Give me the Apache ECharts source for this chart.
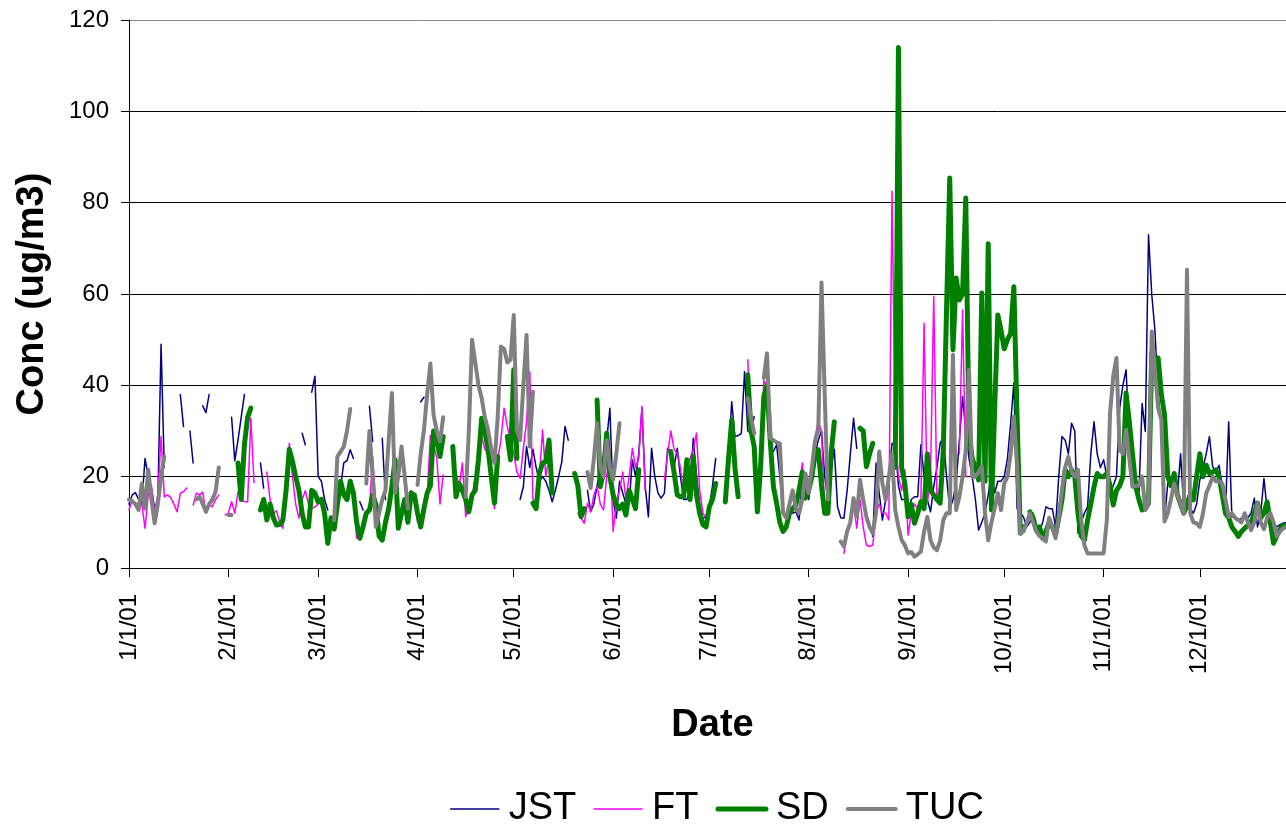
<!DOCTYPE html>
<html><head><meta charset="utf-8">
<script src="https://cdn.jsdelivr.net/npm/echarts@6/dist/echarts.min.js"></script>
<style>html,body{margin:0;padding:0;background:#fff;overflow:hidden}#c{width:1286px;height:827px}</style>
</head><body><div id="c"></div>
<script>
const _ = null;
const monthDays = [31,28,31,30,31,30,31,31,30,31,30,31];
const seriesNames = ['JST','FT','SD','TUC'];
const seriesColors = ['#000080','#FF00FF','#008000','#808080'];

// daily values, one sub-array per month (Jan..Dec 2001)
const jstMonths = [
 [14,16,16.5,15,14,24,20,17.5,13,15, 49,22,_,_,_,_,38,31,_,30, 23,_,_,35.5,34,38,_,_,_,_, _],
 [_,33,23.5,28,33,38,_,_,_,_, 23,17.5,_,_,_,_,_,_,_,_, _,_,_,29.5,27,_,38.5,42],
 [20,19,15,12.7,_,_,_,17.8,23,23.5, 25.9,24,_,14.5,12.7,_,35.4,27.7,_,_, 28.4,15,_,_,_,_,_,_,_,_, _],
 [_,36.4,37.4,_,_,_,_,_,_,_, _,_,_,_,_,_,_,_,_,_, _,_,_,_,_,_,_,_,_,_],
 [_,_,15,17.8,26.6,22,26,22,19,20, 19,17,14.5,17,20,23.3,31,28,_,_, _,_,_,17,12.3,14,18,22,24.4,28, 35],
 [15,10.9,19,16.4,14,14,23.7,20,25,35, 18,11.2,26.2,20,16.4,15.3,16.4,26.2,25.5,22, 26.2,20,15,15,17,28.4,20,13.8,10.9,11.2],
 [13.4,18,24,_,_,18,25,36.4,28.8,29, 29.5,43,30,29.5,33.2,_,_,_,_,_, 25.5,27,20,12,11,12,12,12.3,10.5,20, 18],
 [15,20,25,28,30,20,15,22,26,13.4, 11,10.9,17,25,32.8,26.2,_,_,_,_, 6.9,23,16.4,10.5,15,20,27.3,27,18,15, 15],
 [12,15,15.6,15.6,27,20,15,12.3,17.8,22, 27.3,28.8,20,12.7,15,18.5,28,37.5,30,24, 20,15,8.3,10,12,16,20.7,16.4,19,19],
 [20,24,31.7,40.5,13,12,11.2,9,10,12, 9,8,10,13.4,13,13,9,20,28.8,28, 25,31.7,30,7.6,10,12,13.4,25,32,25, 22],
 [23.7,20,16.4,18,20,35,40,43.4,28,18, 20,16,36,29.9,73,60,52,38,31,10.5, 18.5,19,19.3,15.7,25,13,13,13,12,14],
 [19.3,22,25,28.8,22.2,21,22.5,18,12,32, 11.2,11,10.5,10.9,11,11,12,15.3,9,12, 19.6,12.7,11,9.8,9,9.5,9.8,10,10,10, 10]
];
const ftMonths = [
 [12.7,15,14,13,14,8.7,16,18,12,16, 28.8,15.6,16,15.4,14,12.3,16.4,16.7,17.5,_, 13.8,16.4,16,16.6,12,14,13.4,15,16,_, 11.6],
 [12,14.5,12,16.7,15,14.5,14.5,32.8,18.7,_, _,_,21,15,12,12.5,10,8.7,15,27.3, 20,14,10.9,15,16.9,14,13,13.4],
 [14,15,12,6,11,9,14,19,16,15, 19,16,6.5,7,10,12,13,24.4,14,7, 7,10,13,17,22,10,12,15,10,17, 16],
 [10,10,14,16,29,27,24,14,20.4,_, _,_,20.7,18,23,11.2,14,15.6,20,24, 28.8,26,25,20,13,23.7,28,35,31,28],
 [25,21,19.6,26.2,32,43,15,14,20,30.2, 20,24,_,_,_,_,_,_,_,_, 12,11,9.8,14.2,12.3,16,18,14,12.7,20, 26],
 [8,14,17,21,15,20,26.2,22,24,35.4, 17,_,_,_,_,_,19.3,25,30,26, 25,22,16,22,24,26,29.5,17,12,11],
 [13,16,18,_,_,14,24,32,22,16, _,_,45.6,30,26,12,22,41,40,28, 18,14,10,8,9,12,13,14,17,23, 15],
 [17,22,28.8,32,30,12,12,25,_,_, _,3.2,8,10,14,8.7,15,9,5,4.7, 5,12,14,12,12,10.5,82.5,29.5,20,17, 21.5],
 [7.2,12,14,13,15,53.6,14,20,59.5,15, 18,_,_,_,_,_,25,56.5,20,_, _,_,_,_,_,_,_,_,_,_],
 [], [], []
];
const sdMonths = [
 [],
 [_,_,_,23,15,27,33,35,_,_, 12.7,15,10.5,14,11,9.4,9.5,10.5,17,26, 23.3,20,17,12,9,9,17,16.4],
 [14.5,15,12,5.4,11,8.5,14,19,16,15, 19,16.4,10,6.5,9,12,12.7,16,14,7, 6.1,10,13,17.8,23.7,8.7,12,15,10,16.4, 16],
 [12,9,13,16.4,18,30,28,24.4,28.8,_, _,26.6,15.6,18.5,17,15,12.3,16,17,23.7, 32.8,30,26,20,14.2,24.4,_,_,28.8,23.7],
 [43.4,24,_,_,_,_,14.2,13,20.7,23, 23.3,28,16.4,_,_,_,_,_,_,20.7, 18,11.2,13,_,_,_,36.8,17.8,21,29.5, 20],
 [16,14,13,14,11.6,17,15,13,21.5,_, _,_,_,_,_,_,_,_,25.5,21, 16,15.6,15.6,23.7,15,24.4,16,12,9.5,9],
 [13.4,15,18.5,_,_,14.5,24,32.4,22,15.6, _,_,42.3,30,26.6,12.3,22,37.5,40,28, 17.8,14.2,10,8,9,12,13,13.8,17,21, 15.3],
 [17,20,25,25.9,18,12,12,25,32,_, _,_,_,_,_,_,30.6,30,22.2,25, 27.3,_,_,_,_,_,_,22,114,22, 18.5],
 [11.2,14,9.8,12,14.5,13,25,17,16,15, 14.2,25.9,56.5,85.4,47.8,63.5,58.7,60,81,29.5, 24,22,19.3,60.2,19,71,12.7,34.6,55.4,52],
 [48,50,51.4,61.6,33,7.6,9,_,12.3,11, 8.3,9,6.5,8,10,9,7.2,11,14.9,21.5, 20,21.5,20,12,7,6.1,10.5,14,17.8,20.7, 20],
 [20,20.7,18,13.8,17,18,20,38.3,32,25, 17.8,15,12.7,13,14.2,47,45,46,38,33.5, 20,18,20.7,16,14,12,14,16,14.9,20],
 [25,20,22.5,20.7,21,21.5,20,16,12,11, 9,8,6.9,8,8.7,9.4,10,12,14.2,11, 12,14.5,10,5.4,7,8.5,9.4,9,9.5,10, 10]
];
const tucMonths = [
 [15,14.6,14,12.7,18.5,13,21.5,15,9.8,14, 20,24.4,_,_,_,_,_,_,_,_, _,15,15.6,14,12.3,14,15,16.7,22,_, _],
 [11.6,11.6],
 [_,_,_,_,_,10.5,24.4,25.5,26.6,30, 34.8,_,_,_,_,18.5,30,20,9,12, 15,17,28,38.3,16.4,20,26.6,20,13,_, _],
 [18.2,25,30.2,38,44.8,33.5,30,27.7,33,_, _,_,_,_,_,15.6,30,50,45,40, 37.2,33,30.2,26,23,33,48.5,48,45,45.6],
 [55.4,30.2,28,40,51,26.6,38.6,_,_,_, _,_,_,_,_,_,_,_,_,_, _,_,_,21,17.5,24,31.7,22,20,28, 22],
 [19.3,25,31.7],
 [_,_,_,_,_,_,_,_,_,_, _,_,37.2,33,29.5,_,_,41.6,47,28.4, 28,27.5,27.3,12,11,14,17,13,12,15, 20.7],
 [16.4,22,28,30.2,62.5,38,15,_,_,_, 5.8,4.7,8,10,15.3,11.2,19.3,15,11.2,9, 7.6,12,25.5,18.5,14.9,20,25,12.7,9,6.1, 5],
 [3.2,3.5,2.5,3,3.6,8,11.2,6.1,4.5,3.9, 6,10.5,12,12,46.7,12.7,15.6,20,25.9,43.4, 20,20,21,22.2,12,6.1,10,13,16.4,12.7],
 [18.5,20,25,33.2,22.2,7.6,8,10,12,10, 8,7,6.5,5.8,11,9,6.5,11,17,22, 24.4,21,20,21.5,10.5,5,3.2,3.2,3.2,3.2, 3.2],
 [3.2,10.5,33.9,42,46,25.9,25,30.2,24,17.8, 18,18,20,12.7,14,51.8,43.4,35,32.4,10.2, 12,15,18.5,16,14,12,65.3,12,10,9.8],
 [9,12,16.4,18,20,19,19,18.5,15,11.2, 12,11,10.5,10,12,10,8.3,10,14.2,10, 8.5,11,12,10,6.9,8,8.7,9,10,10, 10]
];

// join the months, padding any short month with gaps
function joinMonths(months) {
  const out = [];
  monthDays.forEach((len, m) => {
    const arr = months[m] || [];
    for (let i = 0; i < len; i++) out.push(i < arr.length ? arr[i] : null);
  });
  return out;
}
const dates = [];
monthDays.forEach((len, m) => { for (let d = 1; d <= len; d++) dates.push((m + 1) + '/' + d + '/01'); });

const jst = joinMonths(jstMonths);
const ft = joinMonths(ftMonths);
const sd = joinMonths(sdMonths);
const tuc = joinMonths(tucMonths);
const values = [jst, ft, sd, tuc];
const widths = [1.5, 1.5, 5, 4];

const FONT = "'Liberation Sans', Arial, sans-serif";
const isMonthStart = (i, v) => dates[i].split('/')[1] === '1';

const chart = echarts.init(document.getElementById('c'), null, {renderer: 'canvas'});
chart.setOption({
  animation: false,
  backgroundColor: '#ffffff',
  grid: {left: 129, right: -10, top: 20, bottom: 259, containLabel: false, outerBoundsMode: 'none'},
  legend: {
    left: 445, top: 785, itemWidth: 48, itemHeight: 14, itemGap: 17,
    itemStyle: {opacity: 0, borderWidth: 0},
    textStyle: {fontSize: 38, color: '#000', fontFamily: FONT, padding: [0, 0, 0, 5]},
    data: seriesNames.map((name, k) => ({
      name, itemStyle: {opacity: 0, borderWidth: 0},
      lineStyle: {color: seriesColors[k], width: widths[k], cap: 'round'}
    }))
  },
  xAxis: {
    type: 'category', data: dates, boundaryGap: false,
    name: 'Date', nameLocation: 'middle', nameGap: 139, nameMoveOverlap: false,
    nameTextStyle: {fontSize: 38, fontWeight: 'bold', color: '#000', fontFamily: FONT},
    axisLine: {lineStyle: {color: '#000', width: 1}},
    axisTick: {show: true, interval: isMonthStart, length: 9, lineStyle: {color: '#000'}},
    axisLabel: {interval: isMonthStart, rotate: 90, fontSize: 24, color: '#000', margin: 26, fontFamily: FONT, hideOverlap: false},
    splitLine: {show: false}
  },
  yAxis: {
    type: 'value', min: 0, max: 120, interval: 20,
    name: 'Conc (ug/m3)', nameLocation: 'middle', nameGap: 77, nameRotate: 90, nameMoveOverlap: false,
    nameTextStyle: {fontSize: 38, fontWeight: 'bold', color: '#000', fontFamily: FONT},
    axisLine: {show: true, lineStyle: {color: '#000', width: 1}},
    axisTick: {show: true, length: 8, lineStyle: {color: '#000'}},
    axisLabel: {fontSize: 24, color: '#000', margin: 20, fontFamily: FONT},
    splitLine: {show: true, lineStyle: {color: ['#000','#000','#000','#000','#000','#000','#888'], width: 1}}
  },
  series: seriesNames.map((name, k) => ({
    name, type: 'line', data: values[k], symbol: 'none', showSymbol: false, connectNulls: false,
    silent: true, z: 2 + k,
    lineStyle: {color: seriesColors[k], width: widths[k], join: 'round', cap: 'round'},
    itemStyle: {color: seriesColors[k]}
  }))
});
</script>
</body></html>
